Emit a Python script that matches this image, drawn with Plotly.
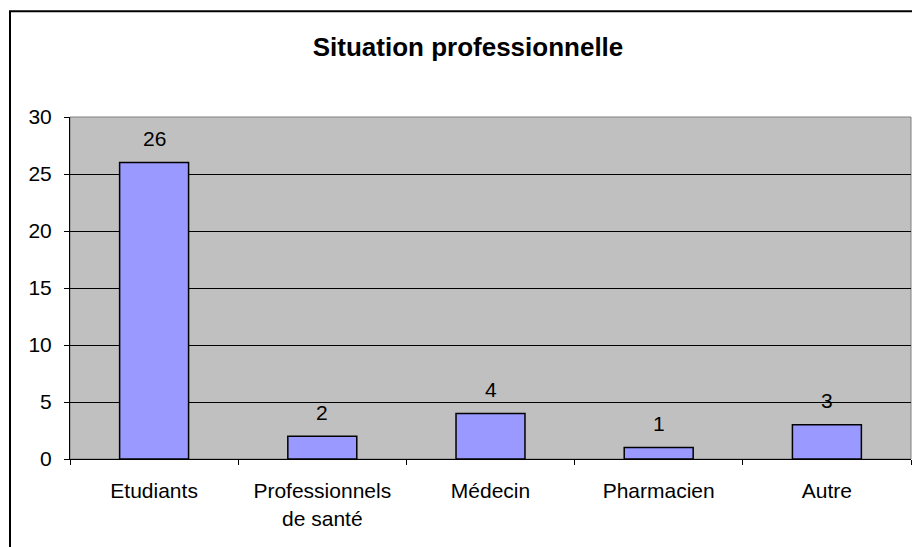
import plotly.graph_objects as go

categories = ["Etudiants", "Professionnels<br>de santé", "Médecin", "Pharmacien", "Autre"]
values = [26, 2, 4, 1, 3]
y_ticks = [0, 5, 10, 15, 20, 25, 30]
title_text = "Situation professionnelle"

FONT = "Liberation Sans, Arial, sans-serif"

W, H = 912, 547
L = 70
R = 1
T = 117
B = H - 459.5
pw, ph = W - L - R, H - T - B

fig = go.Figure()
fig.add_trace(go.Bar(
    x=categories, y=values,
    marker=dict(color="#9999FF", line=dict(color="black", width=1.5)),
    width=0.41,
    hoverinfo="skip",
))

for c, v in zip(categories, values):
    fig.add_annotation(x=c, y=v, text=str(v), showarrow=False, yshift=24,
                       font=dict(family=FONT, size=21, color="black"))

fig.update_layout(
    width=W, height=H,
    margin=dict(l=L, r=R, t=T, b=B, pad=0),
    paper_bgcolor="white",
    plot_bgcolor="#C0C0C0",
    showlegend=False,
    font=dict(family=FONT, size=21, color="black"),
    title=dict(text="<b>" + title_text + "</b>", x=468 / W, xanchor="center",
               y=1 - 47 / H, yanchor="middle",
               font=dict(family=FONT, size=26, color="black")),
    bargap=0.59,
)

fig.update_yaxes(range=[0, 30], tickvals=y_ticks, showgrid=True, gridcolor="black",
                 gridwidth=1, ticks="outside", ticklen=5, tickcolor="black",
                 showline=True, linecolor="black", linewidth=1, zeroline=False,
                 ticklabelstandoff=8, tickfont=dict(family=FONT, size=21))
fig.update_xaxes(showline=True, linecolor="black", linewidth=1, ticks="outside",
                 ticklen=5, tickcolor="black", tickson="boundaries",
                 showgrid=False, ticklabelstandoff=13,
                 tickfont=dict(family=FONT, size=21))

# plot area border (gray)
fig.add_shape(type="rect", xref="paper", yref="paper", x0=0, y0=0, x1=1, y1=1,
              line=dict(color="#808080", width=1), layer="below")
# outer chart frame
fig.add_shape(type="rect", xref="paper", yref="paper",
              x0=(10 - L) / pw, y0=-0.6, x1=1.3, y1=(H - B - 11) / ph,
              line=dict(color="black", width=2))

fig.write_html("out.html",
               config={"displayModeBar": False, "staticPlot": True},
               post_script="document.body.style.margin='0';"
                           "document.body.style.overflow='hidden';")
